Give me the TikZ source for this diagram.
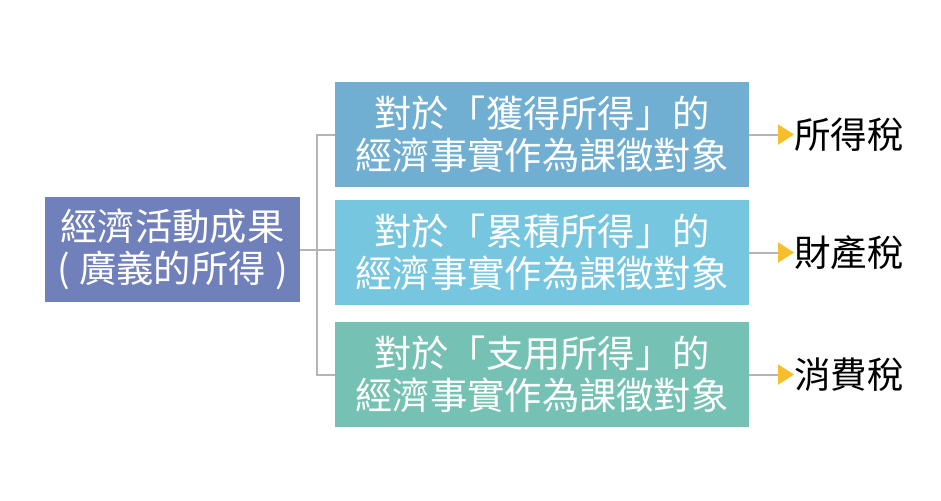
\documentclass[tikz,border=0pt]{standalone}
\usepackage{fontspec}
\newfontfamily\cjk{Noto Sans CJK TC}
\usetikzlibrary{arrows.meta}
\definecolor{rootC}{HTML}{7080BA}
\definecolor{boxA}{HTML}{70AED2}
\definecolor{boxB}{HTML}{76C6E0}
\definecolor{boxC}{HTML}{75C2B4}
\definecolor{lineC}{HTML}{B4B4B4}
\definecolor{arrowY}{HTML}{F6BE2C}
\tikzset{
  x=1pt,y=-1pt,
  mainbox/.style={rectangle,inner sep=0pt,text=white,align=center,
    font=\cjk\fontsize{37.3}{42}\selectfont},
  taxlabel/.style={inner sep=0pt,anchor=west,text=black,font=\cjk\fontsize{36.5}{40}\selectfont},
  conn/.style={draw=lineC,line width=2pt},
  arr/.style={conn,-{Triangle[length=16pt,width=20pt,color=arrowY]}}
}
\begin{document}
\begin{tikzpicture}
\useasboundingbox (0,0) rectangle (941,500);
\node[mainbox,fill=rootC,minimum width=255pt,minimum height=105pt] (root) at (172.5,249.5)
  {經濟活動成果\\\makebox[0.85em][c]{(}廣義的所得\makebox[0.85em][c]{)}};
\node[mainbox,fill=boxA,minimum width=414pt,minimum height=105pt] (b1) at (542,134.5)
  {對於「獲得所得」的\\經濟事實作為課徵對象};
\node[mainbox,fill=boxB,minimum width=414pt,minimum height=105pt] (b2) at (542,252.5)
  {對於「累積所得」的\\經濟事實作為課徵對象};
\node[mainbox,fill=boxC,minimum width=414pt,minimum height=105pt] (b3) at (542,374.5)
  {對於「支用所得」的\\經濟事實作為課徵對象};
\node[taxlabel] (l1) at (794,134.5) {所得稅};
\node[taxlabel] (l2) at (794,252.5) {財產稅};
\node[taxlabel] (l3) at (794,374.5) {消費稅};
\coordinate (j) at (317,249.5);
\draw[conn] (root.east) -- (b2.west |- root.east);
\draw[conn] (b1.west) -| (j) |- (b3.west);
\draw[arr] (b1.east) -- (l1.west);
\draw[arr] (b2.east) -- (l2.west);
\draw[arr] (b3.east) -- (l3.west);
\end{tikzpicture}
\end{document}
